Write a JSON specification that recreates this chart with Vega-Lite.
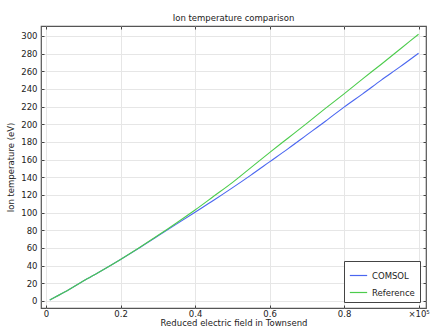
{
  "$schema": "https://vega.github.io/schema/vega-lite/v6.json",
  "autosize": {"type": "none"},
  "width": 385,
  "height": 282,
  "padding": {"left": 41, "top": 26, "right": 11, "bottom": 28},
  "background": "white",
  "config": {
    "font": "DejaVu Sans",
    "view": {"stroke": "#555555", "strokeWidth": 1.2},
    "axis": {"labelFont": "DejaVu Sans", "titleFont": "DejaVu Sans", "labelFontSize": 8.5, "titleFontSize": 8.5, "titleFontWeight": "normal", "labelColor": "#222", "titleColor": "#222", "gridColor": "#e6e6e6", "tickColor": "#444", "domain": false}
  },
  "title": {"text": "Ion temperature comparison", "fontSize": 8.5, "fontWeight": "normal", "font": "DejaVu Sans", "color": "#222", "offset": 3},
  "data": {"values": [
    {"x": 0.01, "y": 1, "s": "COMSOL"},
    {"x": 0.05, "y": 10, "s": "COMSOL"},
    {"x": 0.1, "y": 22.5, "s": "COMSOL"},
    {"x": 0.15, "y": 34.5, "s": "COMSOL"},
    {"x": 0.2, "y": 47, "s": "COMSOL"},
    {"x": 0.25, "y": 60, "s": "COMSOL"},
    {"x": 0.3, "y": 73.5, "s": "COMSOL"},
    {"x": 0.35, "y": 87, "s": "COMSOL"},
    {"x": 0.4, "y": 100.5, "s": "COMSOL"},
    {"x": 0.45, "y": 114, "s": "COMSOL"},
    {"x": 0.5, "y": 128, "s": "COMSOL"},
    {"x": 0.55, "y": 142.5, "s": "COMSOL"},
    {"x": 0.6, "y": 157.5, "s": "COMSOL"},
    {"x": 0.65, "y": 172.5, "s": "COMSOL"},
    {"x": 0.7, "y": 188, "s": "COMSOL"},
    {"x": 0.75, "y": 203.5, "s": "COMSOL"},
    {"x": 0.8, "y": 219.5, "s": "COMSOL"},
    {"x": 0.85, "y": 234.5, "s": "COMSOL"},
    {"x": 0.9, "y": 250, "s": "COMSOL"},
    {"x": 0.95, "y": 265, "s": "COMSOL"},
    {"x": 1.0, "y": 280.5, "s": "COMSOL"},
    {"x": 0.01, "y": 1, "s": "Reference"},
    {"x": 0.05, "y": 10, "s": "Reference"},
    {"x": 0.1, "y": 22.5, "s": "Reference"},
    {"x": 0.15, "y": 34.5, "s": "Reference"},
    {"x": 0.2, "y": 47, "s": "Reference"},
    {"x": 0.25, "y": 60.2, "s": "Reference"},
    {"x": 0.3, "y": 74, "s": "Reference"},
    {"x": 0.35, "y": 88.3, "s": "Reference"},
    {"x": 0.4, "y": 103, "s": "Reference"},
    {"x": 0.45, "y": 118.5, "s": "Reference"},
    {"x": 0.5, "y": 134, "s": "Reference"},
    {"x": 0.55, "y": 151, "s": "Reference"},
    {"x": 0.6, "y": 168, "s": "Reference"},
    {"x": 0.65, "y": 184.5, "s": "Reference"},
    {"x": 0.7, "y": 201, "s": "Reference"},
    {"x": 0.75, "y": 218, "s": "Reference"},
    {"x": 0.8, "y": 234.5, "s": "Reference"},
    {"x": 0.85, "y": 251.5, "s": "Reference"},
    {"x": 0.9, "y": 268, "s": "Reference"},
    {"x": 0.95, "y": 285, "s": "Reference"},
    {"x": 1.0, "y": 302, "s": "Reference"}
  ]},
  "resolve": {"axis": {"x": "independent", "y": "independent"}},
  "layer": [
    {
      "mark": {"type": "line", "strokeWidth": 1.1, "interpolate": "monotone"},
      "encoding": {
        "x": {"field": "x", "type": "quantitative", "scale": {"domain": [-0.0135, 1.02], "nice": false, "zero": false},
          "axis": {"title": "Reduced electric field in Townsend", "values": [0, 0.2, 0.4, 0.6, 0.8, 1.0], "labelExpr": "datum.value == 1 ? '×10⁵' : format(datum.value, '.1~f')", "tickSize": -3, "labelPadding": 4, "titlePadding": 1}},
        "y": {"field": "y", "type": "quantitative", "scale": {"domain": [-8, 311.3], "nice": false, "zero": false},
          "axis": {"title": "Ion temperature (eV)", "values": [0,20,40,60,80,100,120,140,160,180,200,220,240,260,280,300], "tickSize": -3, "labelPadding": 7, "titlePadding": 5}},
        "color": {"field": "s", "type": "nominal", "scale": {"domain": ["COMSOL", "Reference"], "range": ["#4a66f0", "#4ccc4c"]},
          "legend": {"title": null, "orient": "bottom-right", "offset": 6, "symbolType": "stroke", "symbolSize": 300, "symbolStrokeWidth": 1.2, "strokeColor": "#444", "fillColor": "white", "padding": 5, "labelFontSize": 8.5, "labelFont": "DejaVu Sans", "labelColor": "#222", "rowPadding": 3, "cornerRadius": 0}}
      }
    },
    {
      "mark": {"type": "line", "opacity": 0},
      "encoding": {
        "x": {"field": "x", "type": "quantitative", "scale": {"domain": [-0.0135, 1.02], "nice": false, "zero": false},
          "axis": {"orient": "top", "title": null, "labels": false, "grid": false, "values": [0, 0.2, 0.4, 0.6, 0.8, 1.0], "tickSize": -3}},
        "y": {"field": "y", "type": "quantitative", "scale": {"domain": [-8, 311.3], "nice": false, "zero": false},
          "axis": {"orient": "right", "title": null, "labels": false, "grid": false, "values": [0,20,40,60,80,100,120,140,160,180,200,220,240,260,280,300], "tickSize": -3}},
        "detail": {"field": "s", "type": "nominal"}
      }
    }
  ]
}
